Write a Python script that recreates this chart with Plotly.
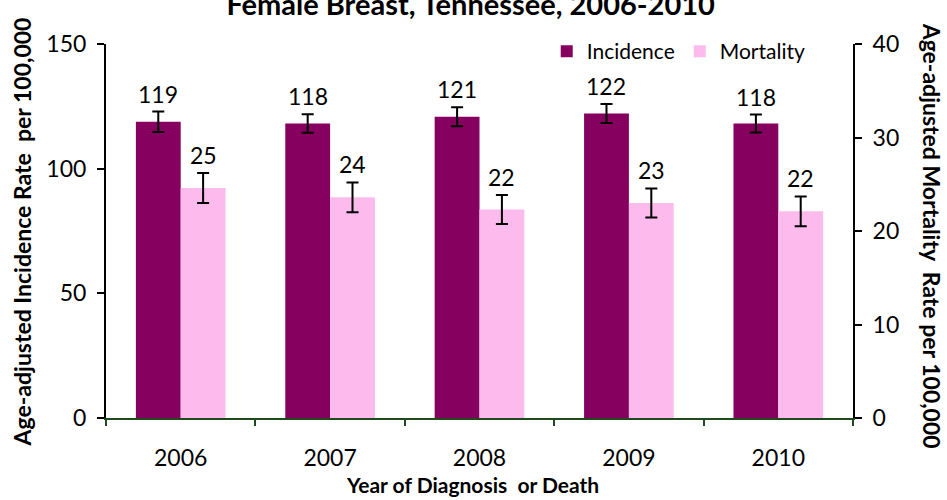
import plotly.graph_objects as go

# Female breast cancer, Tennessee, age-adjusted rates per 100,000
years = ["2006", "2007", "2008", "2009", "2010"]
incidence = [118.8, 118.1, 120.8, 122.1, 118.1]
incidence_ci = [4.1, 3.7, 3.8, 3.8, 3.6]
mortality = [24.6, 23.6, 22.3, 23.0, 22.1]
mortality_ci = [1.6, 1.6, 1.55, 1.55, 1.6]

left_ticks = [0, 50, 100, 150]
right_ticks = [0, 10, 20, 30, 40]

INC_COLOR = "#85005F"
MORT_COLOR = "#FCBBEC"
FONT = "Lato"
NB = "\u00a0"

fig = go.Figure()
fig.add_trace(go.Bar(
    name="Incidence", x=years, y=incidence, yaxis="y", offsetgroup="inc",
    marker=dict(color=INC_COLOR, line=dict(width=0)),
    error_y=dict(type="data", array=incidence_ci, color="black", thickness=2, width=6),
))
fig.add_trace(go.Bar(
    name="Mortality", x=years, y=mortality, yaxis="y2", offsetgroup="mort",
    marker=dict(color=MORT_COLOR, line=dict(width=0)),
    error_y=dict(type="data", array=mortality_ci, color="black", thickness=2, width=6),
))

# Value labels above each error bar
annotations = []
for i, (v, e) in enumerate(zip(incidence, incidence_ci)):
    annotations.append(dict(x=i - 0.15, y=v + e, xref="x", yref="y", text=f"{v:.0f}",
                            showarrow=False, yanchor="bottom", yshift=2,
                            font=dict(family=FONT, size=23, color="black")))
for i, (v, e) in enumerate(zip(mortality, mortality_ci)):
    annotations.append(dict(x=i + 0.15, y=v + e, xref="x", yref="y2", text=f"{v:.0f}",
                            showarrow=False, yanchor="bottom", yshift=2,
                            font=dict(family=FONT, size=23, color="black")))

# Axis titles
annotations.append(dict(text=f"<b>Age-adjusted Incidence Rate{NB} per 100,000</b>", textangle=-90,
                        xref="paper", yref="paper", x=-0.112, y=0.497, xanchor="center",
                        yanchor="middle", showarrow=False,
                        font=dict(family=FONT, size=23, color="black")))
annotations.append(dict(text=f"<b>Age-adjusted Mortality{NB} Rate per 100,000</b>", textangle=90,
                        xref="paper", yref="paper", x=1.106, y=0.487, xanchor="center",
                        yanchor="middle", showarrow=False,
                        font=dict(family=FONT, size=23, color="black")))
annotations.append(dict(text=f"<b>Year of Diagnosis{NB} or Death</b>", xref="paper", yref="paper",
                        x=0.49, y=-0.177, xanchor="center", yanchor="middle", showarrow=False,
                        font=dict(family=FONT, size=21, color="black")))

fig.update_layout(
    width=947, height=500,
    margin=dict(l=106, r=94, t=44, b=82, autoexpand=False),
    paper_bgcolor="white", plot_bgcolor="white",
    barmode="group", bargap=0.4, bargroupgap=0,
    font=dict(family=FONT, size=22, color="black"),
    title=dict(text="Female Breast, Tennessee, 2006-2010", x=0.497, xanchor="center",
               y=0.99, yanchor="middle", yref="container",
               font=dict(family=FONT, size=29, color="black", weight="bold")),
    legend=dict(orientation="h", x=0.59, y=0.98, xanchor="left", yanchor="middle",
                font=dict(family=FONT, size=21), bgcolor="rgba(0,0,0,0)",
                itemwidth=30, tracegroupgap=0, traceorder="normal"),
    xaxis=dict(
        type="category", showgrid=False, showline=True, linecolor="#1E4A1E", linewidth=2,
        ticks="outside", tickson="boundaries", ticklen=6, tickcolor="#1E4A1E", tickwidth=2,
        ticklabelstandoff=18, automargin=False,
        tickfont=dict(family=FONT, size=23), zeroline=False,
    ),
    yaxis=dict(
        range=[0, 150], tickvals=left_ticks, showgrid=False, showline=True, linecolor="black",
        linewidth=2, ticks="outside", ticklen=7, tickcolor="black", tickwidth=2,
        ticklabelstandoff=6, automargin=False,
        tickfont=dict(family=FONT, size=23), zeroline=False,
    ),
    yaxis2=dict(
        range=[0, 40], tickvals=right_ticks, overlaying="y", side="right", showgrid=False,
        showline=True, linecolor="black", linewidth=2, ticks="outside", ticklen=7,
        tickcolor="black", tickwidth=2, ticklabelstandoff=6, automargin=False,
        tickfont=dict(family=FONT, size=23), zeroline=False,
    ),
    annotations=annotations,
)

fig.write_html("out.html")
